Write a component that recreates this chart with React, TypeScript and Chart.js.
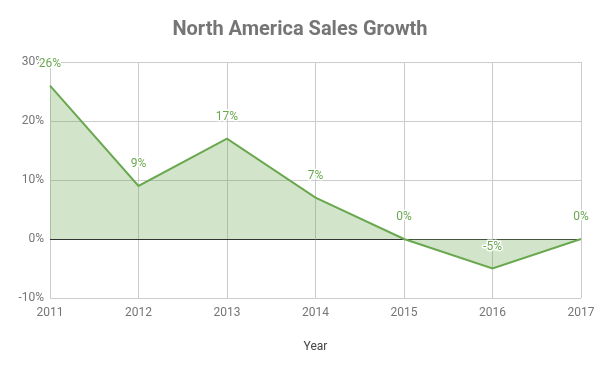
import React, { useEffect, useRef } from "react";
import { Chart, registerables } from "chart.js";

Chart.register(...registerables);

const years = ["2011", "2012", "2013", "2014", "2015", "2016", "2017"];
const growth = [26, 9, 17, 7, 0, -5, 0];
const yTicks = [-10, 0, 10, 20, 30];
const titleText = "North America Sales Growth";
const xTitle = "Year";

const GREEN = "rgb(106,168,79)";

const labelPlugin = {
  id: "pointLabels",
  afterDatasetsDraw(chart: any) {
    const ctx = chart.ctx;
    const meta = chart.getDatasetMeta(0);
    ctx.save();
    ctx.font = "12px Roboto";
    ctx.textAlign = "center";
    ctx.textBaseline = "middle";
    meta.data.forEach((pt: any, i: number) => {
      const txt = growth[i] + "%";
      const x = pt.x;
      const y = pt.y - 22;
      ctx.lineWidth = 3;
      ctx.strokeStyle = "#ffffff";
      ctx.lineJoin = "round";
      ctx.strokeText(txt, x, y);
      ctx.fillStyle = GREEN;
      ctx.fillText(txt, x, y);
    });
    ctx.restore();
  },
};

export default function App() {
  const ref = useRef<HTMLCanvasElement>(null);
  useEffect(() => {
    document.body.style.margin = "0";
    const chart = new Chart(ref.current as HTMLCanvasElement, {
      type: "line",
      data: {
        labels: years,
        datasets: [
          {
            data: growth,
            borderColor: GREEN,
            backgroundColor: "rgba(106,168,79,0.3)",
            borderWidth: 2,
            pointRadius: 0,
            fill: "origin",
            tension: 0,
          },
        ],
      },
      options: {
        animation: false,
        responsive: false,
        maintainAspectRatio: false,
        layout: { padding: 0 },
        plugins: {
          legend: { display: false },
          tooltip: { enabled: false },
          title: {
            display: true,
            text: titleText,
            color: "#757575",
            font: { family: "Roboto", size: 20, weight: "bold" },
            padding: { top: 18, bottom: 20 },
          },
        },
        scales: {
          x: {
            offset: false,
            grid: { color: "#cccccc", drawTicks: false },
            border: { display: false },
            ticks: {
              color: "#757575",
              font: { family: "Roboto", size: 12 },
              padding: 8,
              maxRotation: 0,
            },
            title: {
              display: true,
              text: xTitle,
              color: "#444444",
              font: { family: "Roboto", size: 12 },
              padding: { top: 0, bottom: 17 },
            },
            afterFit(scale: any) {
              scale.height = 73;
              scale.paddingRight = 19;
            },
          },
          y: {
            min: yTicks[0],
            max: yTicks[yTicks.length - 1],
            afterBuildTicks(scale: any) {
              scale.ticks = yTicks.map((v) => ({ value: v }));
            },
            grid: {
              drawTicks: false,
              color: (c: any) => (c.tick && c.tick.value === 0 ? "#333333" : "#cccccc"),
            },
            border: { display: false },
            ticks: {
              color: "#757575",
              font: { family: "Roboto", size: 12 },
              padding: 6,
              callback: (v: any) => v + "%",
            },
            afterFit(scale: any) {
              scale.width = 50;
            },
          },
        },
      },
      plugins: [labelPlugin],
    });
    return () => chart.destroy();
  }, []);
  return (
    <div style={{ position: "absolute", left: 0, top: 0, width: 600, height: 371, background: "#fff" }}>
      <canvas ref={ref} width={600} height={371} style={{ width: 600, height: 371 }} />
    </div>
  );
}
